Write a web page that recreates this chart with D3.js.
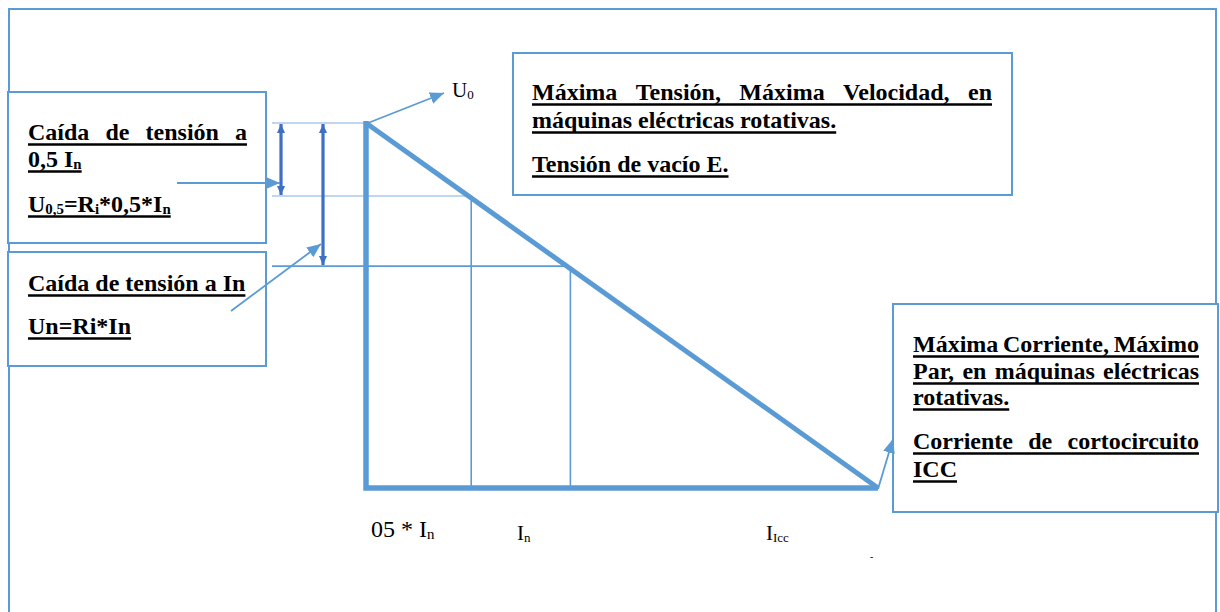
<!DOCTYPE html>
<html>
<head>
<meta charset="utf-8">
<script src="https://cdn.jsdelivr.net/npm/d3@7/dist/d3.min.js"></script>
<style>
  html, body { margin: 0; padding: 0; background: #fff; }
  svg { display: block; }
</style>
</head>
<body>
<div id="chart"></div>
<script>
// current in units of In, voltage as a fraction of U0
const currents = [0, 0.51, 1, 2.53];
const voltages = [1, 0.8, 0.608, 0];
const tickLabels = ['05 * I_{n}', 'I_{n}', 'I_{Icc}'];
const topLabel = 'U_{0}';

const boxLeftTop = ['Caída de tensión a', '0,5 I_{n}', 'U_{0,5}=R_{i}*0,5*I_{n}'];
const boxLeftBottom = ['Caída de tensión a In', 'Un=Ri*In'];
const boxTop = ['Máxima Tensión, Máxima Velocidad, en', 'máquinas eléctricas rotativas.', 'Tensión de vacío E.'];
const boxRight = ['Máxima Corriente, Máximo', 'Par, en máquinas eléctricas', 'rotativas.', 'Corriente de cortocircuito', 'ICC'];

const W = 1220;
const H = 612;
const blue = '#5b9bd5';
const darkBlue = '#3f6fc4';
const pale = '#aac9ea';
const serif = '"Liberation Serif", "Times New Roman", serif';

const svg = d3.select('#chart').append('svg')
  .attr('width', W)
  .attr('height', H);

svg.append('rect').attr('width', W).attr('height', H).attr('fill', '#fff');

const defs = svg.append('defs');
function marker(id, color, len, wid) {
  defs.append('marker')
    .attr('id', id)
    .attr('markerUnits', 'userSpaceOnUse')
    .attr('viewBox', `0 0 ${len} ${wid}`)
    .attr('refX', len)
    .attr('refY', wid / 2)
    .attr('markerWidth', len)
    .attr('markerHeight', wid)
    .attr('orient', 'auto-start-reverse')
  .append('path')
    .attr('d', `M0,0L${len},${wid / 2}L0,${wid}Z`)
    .attr('fill', color);
}
marker('head', blue, 14, 12);
marker('headDark', darkBlue, 9, 8);

const x = d3.scaleLinear()
  .domain([0, currents[currents.length - 1]])
  .range([366, 878]);

const y = d3.scaleLinear()
  .domain([0, 1])
  .range([488, 123]);

const points = currents.map((c, i) => ({ c, v: voltages[i] }));
const last = points[points.length - 1];

// outer frame
svg.append('path')
  .attr('d', `M9,${H}V9H1216V${H}`)
  .attr('fill', 'none')
  .attr('stroke', blue)
  .attr('stroke-width', 2);

// text boxes
const boxes = [
  { x: 8, y: 92, w: 258, h: 151 },
  { x: 8, y: 252, w: 258, h: 114 },
  { x: 513, y: 53, w: 499, h: 142 },
  { x: 893, y: 304, w: 325, h: 208 },
];
svg.selectAll('.box')
  .data(boxes)
  .enter().append('rect')
  .attr('class', 'box')
  .attr('x', (d) => d.x)
  .attr('y', (d) => d.y)
  .attr('width', (d) => d.w)
  .attr('height', (d) => d.h)
  .attr('fill', '#fff')
  .attr('stroke', blue)
  .attr('stroke-width', 2);

// guide lines from the characteristic to the left
const guideX = 272;
svg.selectAll('.hguide')
  .data(points.slice(0, 3))
  .enter().append('line')
  .attr('class', 'hguide')
  .attr('x1', guideX)
  .attr('x2', (d) => x(d.c))
  .attr('y1', (d) => y(d.v))
  .attr('y2', (d) => y(d.v))
  .attr('stroke', (d, i) => (i < 2 ? pale : blue))
  .attr('stroke-width', 1.6);

svg.selectAll('.vguide')
  .data(points.slice(1, 3))
  .enter().append('line')
  .attr('class', 'vguide')
  .attr('x1', (d) => x(d.c) + 2)
  .attr('x2', (d) => x(d.c) + 2)
  .attr('y1', (d) => y(d.v))
  .attr('y2', y(0))
  .attr('stroke', blue)
  .attr('stroke-width', 1.6);

// the characteristic: axes and the falling line
svg.append('path')
  .attr('d', `M${x(0)},${y(1) - 2}V${y(0)}H${x(last.c)}`)
  .attr('fill', 'none')
  .attr('stroke', blue)
  .attr('stroke-width', 5.5)
  .attr('stroke-linejoin', 'miter');

svg.append('path')
  .datum([points[0], last])
  .attr('d', d3.line().x((d) => x(d.c)).y((d) => y(d.v)))
  .attr('stroke', blue)
  .attr('stroke-width', 5);

// double arrows for the voltage drops
const drops = [{ at: 281, v: voltages[1] }, { at: 323, v: voltages[2] }];
svg.selectAll('.drop')
  .data(drops)
  .enter().append('line')
  .attr('class', 'drop')
  .attr('x1', (d) => d.at)
  .attr('x2', (d) => d.at)
  .attr('y1', y(1) + 1)
  .attr('y2', (d) => y(d.v) - 1)
  .attr('stroke', darkBlue)
  .attr('stroke-width', 3.2)
  .attr('marker-start', 'url(#headDark)')
  .attr('marker-end', 'url(#headDark)');

// pointer arrows
const pointers = [
  [[177, 183], [drops[0].at - 1, 183]],
  [[231, 311], [drops[1].at - 2, 244]],
  [[x(0) + 2, y(1)], [444, 93]],
  [[x(last.c), y(0) + 1], [893, 439]],
];
svg.selectAll('.pointer')
  .data(pointers)
  .enter().append('line')
  .attr('class', 'pointer')
  .attr('x1', (d) => d[0][0])
  .attr('y1', (d) => d[0][1])
  .attr('x2', (d) => d[1][0])
  .attr('y2', (d) => d[1][1])
  .attr('stroke', blue)
  .attr('stroke-width', 1.8)
  .attr('marker-end', 'url(#head)');

// text with _{sub} parts
function segments(str) {
  const out = [];
  const re = /_\{([^}]*)\}/g;
  let pos = 0;
  let m;
  while ((m = re.exec(str)) !== null) {
    if (m.index > pos) out.push({ t: str.slice(pos, m.index), sub: false });
    out.push({ t: m[1], sub: true });
    pos = re.lastIndex;
  }
  if (pos < str.length) out.push({ t: str.slice(pos), sub: false });
  return out;
}

function word(g, str, size, weight, by) {
  const t = g.append('text')
    .attr('y', by)
    .attr('font-family', serif)
    .attr('font-size', size)
    .attr('font-weight', weight)
    .attr('fill', '#000');
  const shift = size * 0.1;
  let down = false;
  segments(str).forEach((s) => {
    const ts = t.append('tspan').text(s.t);
    if (s.sub) {
      ts.attr('font-size', size * 0.62);
      if (!down) ts.attr('dy', shift);
      down = true;
    } else if (down) {
      ts.attr('dy', -shift);
      down = false;
    }
  });
  return t;
}

function paragraph(lines, x0, width, baselines, justified) {
  const size = 24;
  lines.forEach((line, i) => {
    const g = svg.append('g');
    const words = line.split(' ').map((w) => word(g, w, size, 'bold', baselines[i]));
    const widths = words.map((t) => t.node().getComputedTextLength());
    const total = d3.sum(widths);
    const gap = justified[i] && words.length > 1
      ? (width - total) / (words.length - 1)
      : size * 0.25;
    let cx = x0;
    words.forEach((t, k) => {
      t.attr('x', cx);
      cx += widths[k] + (k < words.length - 1 ? gap : 0);
    });
    g.append('line')
      .attr('x1', x0)
      .attr('x2', cx)
      .attr('y1', baselines[i] + 4.5)
      .attr('y2', baselines[i] + 4.5)
      .attr('stroke', '#000')
      .attr('stroke-width', 2.4);
  });
}

paragraph(boxLeftTop, 28, 219, [140, 167, 212], [true, false, false]);
paragraph(boxLeftBottom, 28, 219, [291, 334], [false, false]);
paragraph(boxTop, 532, 460, [100, 128, 172], [true, false, false]);
paragraph(boxRight, 913, 286, [352, 379, 405, 449, 477], [true, true, false, true, false]);

// current labels under the axis and U0 label
const labelPos = [{ x: 371, y: 537, s: 24 }, { x: 517, y: 540, s: 21 }, { x: 766, y: 540, s: 21 }];
tickLabels.forEach((l, i) => {
  word(svg, l, labelPos[i].s, 'normal', labelPos[i].y).attr('x', labelPos[i].x);
});
word(svg, topLabel, 21, 'normal', 97).attr('x', 452);

svg.append('text')
  .attr('x', 870)
  .attr('y', 560)
  .attr('font-family', serif)
  .attr('font-size', 10)
  .text('-');
</script>
</body>
</html>
